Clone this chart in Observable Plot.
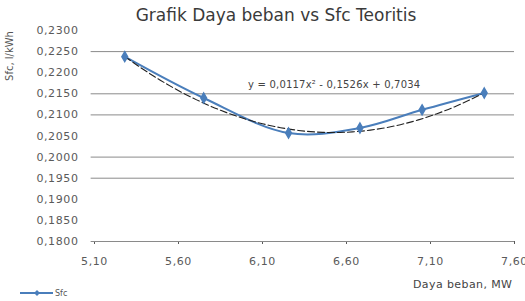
<!DOCTYPE html>
<html><head><meta charset="utf-8">
<script src="https://cdn.jsdelivr.net/npm/d3@7"></script>
<script src="https://cdn.jsdelivr.net/npm/@observablehq/plot@0.6"></script>
<style>
body{margin:0;background:#fff;font-family:"DejaVu Sans",sans-serif;}
#wrap{position:relative;width:525px;height:301px;overflow:hidden;}
.t{position:absolute;white-space:nowrap;color:#404040;}
</style></head><body>
<div id="wrap">
<div id="chart"></div>
<div class="t" style="left:0;width:552px;text-align:center;top:5px;font-size:17px;color:#3a3a3a;">Grafik Daya beban vs Sfc Teoritis</div>
<div class="t" style="left:9px;top:56px;font-size:10px;transform:translate(-50%,-50%) rotate(-90deg);color:#555;">Sfc, l/kWh</div>
<div class="t" style="left:248px;top:79px;font-size:10px;letter-spacing:0.2px;color:#444;">y = 0,0117x² - 0,1526x + 0,7034</div>
<div class="t" style="left:413px;top:278px;font-size:11px;letter-spacing:0.4px;color:#444;">Daya beban, MW</div>
<svg style="position:absolute;left:0;top:0" width="525" height="301">
<line x1="20" x2="53" y1="293" y2="293" stroke="#4a7ebb" stroke-width="2"/>
<path d="M37,290 L40,293 L37,296 L34,293 Z" fill="#4a7ebb"/>
<text x="55" y="296" font-size="8" fill="#555" font-family="DejaVu Sans,sans-serif">Sfc</text>
</svg>
</div>
<script>
const daya = [5.28, 5.75, 6.255, 6.68, 7.05, 7.42];
const sfc = [0.2238, 0.2140, 0.2057, 0.2069, 0.2112, 0.2152];
const yTicks = [0.18, 0.185, 0.19, 0.195, 0.2, 0.205, 0.21, 0.215, 0.22, 0.225, 0.23];
const xTicks = [5.1, 5.6, 6.1, 6.6, 7.1, 7.6];
const gridLines = [0.18, 0.195, 0.2, 0.21, 0.215, 0.225];
const trendCoef = [0.0117, -0.1526, 0.7034];

const data = daya.map((x, i) => ({x, y: sfc[i]}));
const xs = d3.range(0, 61).map(i => daya[0] + (daya[daya.length - 1] - daya[0]) * i / 60);
const trend = xs.map(x => ({x, y: trendCoef[0] * x * x + trendCoef[1] * x + trendCoef[2]}));
const fmt = n => d => d.toFixed(n).replace(".", ",");

const chart = Plot.plot({
  width: 525, height: 301,
  marginLeft: 94, marginRight: 11, marginTop: 30, marginBottom: 60,
  style: {fontFamily: "'DejaVu Sans', sans-serif", fontSize: "11px", color: "#5a5a5a", background: "transparent", letterSpacing: "0.6px"},
  x: {domain: [5.1, 7.6], ticks: xTicks, tickFormat: fmt(2), tickSize: 3, tickPadding: 13, label: null},
  y: {domain: [0.18, 0.23], ticks: yTicks, tickFormat: fmt(4), tickSize: 0, tickPadding: 16, label: null},
  marks: [
    Plot.ruleY(gridLines, {stroke: "#8a8a8a", strokeWidth: 1, x1: 5.08, x2: 7.6}),
    Plot.line(data, {x: "x", y: "y", stroke: "#4a7ebb", strokeWidth: 2, curve: "catmull-rom"}),
    Plot.line(trend, {x: "x", y: "y", stroke: "#222", strokeWidth: 1.1, strokeDasharray: "7,3"}),
    Plot.dot(data, {x: "x", y: "y", symbol: "diamond", r: 3, fill: "#4a7ebb", stroke: "#4a7ebb"})
  ]
});
document.getElementById("chart").appendChild(chart);
</script>
</body></html>
